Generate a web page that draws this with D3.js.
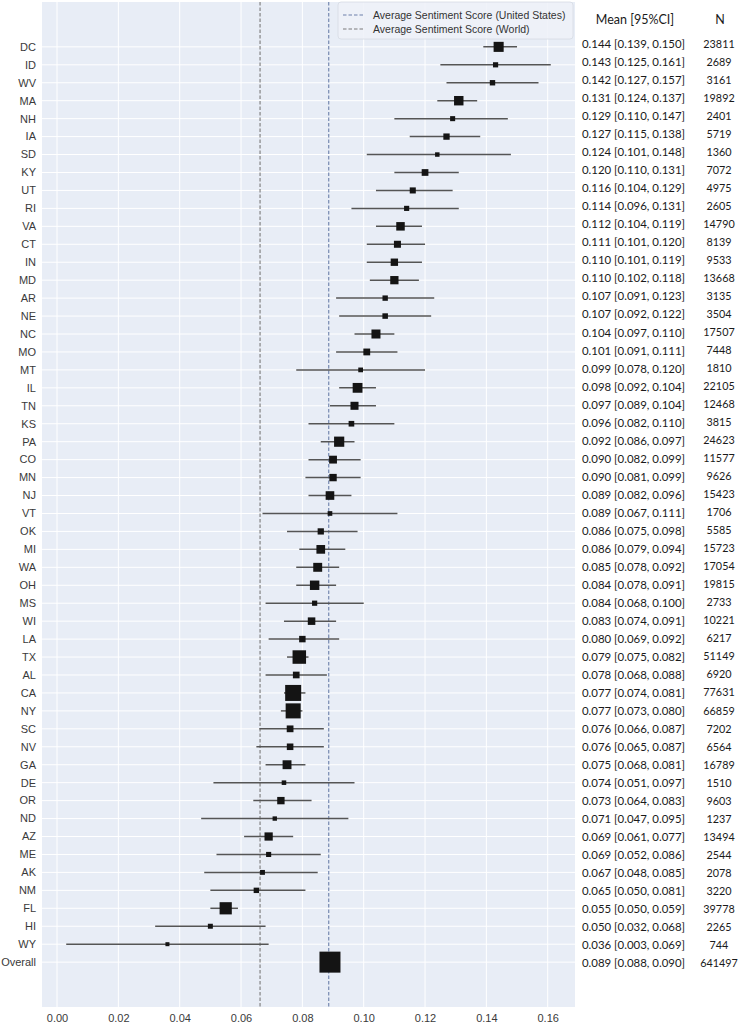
<!DOCTYPE html>
<html>
<head>
<meta charset="utf-8">
<script src="https://cdn.jsdelivr.net/npm/d3@7"></script>
<style>
  html, body { margin: 0; padding: 0; background: #ffffff; }
  svg { display: block; }
</style>
</head>
<body>
<svg id="chart" width="738" height="1025"></svg>
<script>
const states = ["DC","ID","WV","MA","NH","IA","SD","KY","UT","RI","VA","CT","IN","MD","AR","NE","NC","MO","MT","IL","TN","KS","PA","CO","MN","NJ","VT","OK","MI","WA","OH","MS","WI","LA","TX","AL","CA","NY","SC","NV","GA","DE","OR","ND","AZ","ME","AK","NM","FL","HI","WY","Overall"];
const means = [0.144,0.143,0.142,0.131,0.129,0.127,0.124,0.120,0.116,0.114,0.112,0.111,0.110,0.110,0.107,0.107,0.104,0.101,0.099,0.098,0.097,0.096,0.092,0.090,0.090,0.089,0.089,0.086,0.086,0.085,0.084,0.084,0.083,0.080,0.079,0.078,0.077,0.077,0.076,0.076,0.075,0.074,0.073,0.071,0.069,0.069,0.067,0.065,0.055,0.050,0.036,0.089];
const lowers = [0.139,0.125,0.127,0.124,0.110,0.115,0.101,0.110,0.104,0.096,0.104,0.101,0.101,0.102,0.091,0.092,0.097,0.091,0.078,0.092,0.089,0.082,0.086,0.082,0.081,0.082,0.067,0.075,0.079,0.078,0.078,0.068,0.074,0.069,0.075,0.068,0.074,0.073,0.066,0.065,0.068,0.051,0.064,0.047,0.061,0.052,0.048,0.050,0.050,0.032,0.003,0.088];
const uppers = [0.150,0.161,0.157,0.137,0.147,0.138,0.148,0.131,0.129,0.131,0.119,0.120,0.119,0.118,0.123,0.122,0.110,0.111,0.120,0.104,0.104,0.110,0.097,0.099,0.099,0.096,0.111,0.098,0.094,0.092,0.091,0.100,0.091,0.092,0.082,0.088,0.081,0.080,0.087,0.087,0.081,0.097,0.083,0.095,0.077,0.086,0.085,0.081,0.059,0.068,0.069,0.090];
const counts = [23811,2689,3161,19892,2401,5719,1360,7072,4975,2605,14790,8139,9533,13668,3135,3504,17507,7448,1810,22105,12468,3815,24623,11577,9626,15423,1706,5585,15723,17054,19815,2733,10221,6217,51149,6920,77631,66859,7202,6564,16789,1510,9603,1237,13494,2544,2078,3220,39778,2265,744,641497];
const xTicks = [0.00,0.02,0.04,0.06,0.08,0.10,0.12,0.14,0.16];
const refLines = [
  {label: "Average Sentiment Score (United States)", value: 0.0886},
  {label: "Average Sentiment Score (World)", value: 0.0662}
];
const tableHeaders = ["Mean [95%CI]", "N"];

// ---- layout / styles
const plot = {left: 42, right: 575, top: 2, bottom: 1007};
const bg = "#e8edf6";
const refColors = ["#6d80aa", "#7a7a7a"];
const overallSide = 21;

const svg = d3.select("#chart");
const rows = states.map((s, i) => ({state: s, mean: means[i], lo: lowers[i], hi: uppers[i], n: counts[i], i}));

const x = d3.scaleLinear().domain([-0.0049, 0.1689]).range([plot.left, plot.right]);
const y = d3.scaleLinear().domain([-2.5, states.length + 1.5]).range([plot.top, plot.bottom]);
const side = d3.scaleLinear().domain([Math.sqrt(744), Math.sqrt(77631)]).range([4, 16]);
const sz = d => d.state === "Overall" ? overallSide : side(Math.sqrt(d.n));

// background
svg.append("rect").attr("x", plot.left).attr("y", plot.top)
  .attr("width", plot.right - plot.left).attr("height", plot.bottom - plot.top)
  .attr("fill", bg);

// grid
const g = svg.append("g");
g.selectAll("line.vg").data(xTicks).join("line")
  .attr("x1", d => x(d)).attr("x2", d => x(d))
  .attr("y1", plot.top).attr("y2", plot.bottom)
  .attr("stroke", "#ffffff").attr("stroke-width", 1);
g.selectAll("line.hg").data(rows).join("line")
  .attr("x1", plot.left).attr("x2", plot.right)
  .attr("y1", d => y(d.i)).attr("y2", d => y(d.i))
  .attr("stroke", "#ffffff").attr("stroke-width", 1);

// reference lines
svg.selectAll("line.ref").data(refLines).join("line")
  .attr("x1", d => x(d.value)).attr("x2", d => x(d.value))
  .attr("y1", plot.top).attr("y2", plot.bottom)
  .attr("stroke", (d, i) => refColors[i]).attr("stroke-width", 1.1)
  .attr("stroke-dasharray", "3.5,2");

// CI lines
svg.selectAll("line.ci").data(rows).join("line")
  .attr("x1", d => x(d.lo)).attr("x2", d => x(d.hi))
  .attr("y1", d => y(d.i)).attr("y2", d => y(d.i))
  .attr("stroke", "#555555").attr("stroke-width", 1.5);

// markers
svg.selectAll("rect.mk").data(rows).join("rect")
  .attr("width", sz).attr("height", sz)
  .attr("x", d => x(d.mean) - sz(d) / 2)
  .attr("y", d => y(d.i) - sz(d) / 2)
  .attr("fill", "#141414");

// y labels
svg.selectAll("text.yl").data(rows).join("text")
  .attr("x", 36).attr("y", d => y(d.i)).attr("dy", "0.35em")
  .attr("text-anchor", "end")
  .attr("font-family", "Liberation Sans, Arial, sans-serif").attr("font-size", 11)
  .attr("fill", "#3a3a3a").text(d => d.state);

// x axis tick labels
const xAxis = d3.axisBottom(x).tickValues(xTicks).tickFormat(d3.format(".2f")).tickSize(0).tickPadding(7);
const ax = svg.append("g").attr("transform", `translate(0,${plot.bottom})`).call(xAxis);
ax.select(".domain").remove();
ax.selectAll("text").attr("font-family", "Liberation Sans, Arial, sans-serif").attr("font-size", 11).attr("fill", "#3a3a3a");

// legend
const leg = svg.append("g");
leg.append("rect").attr("x", 338).attr("y", 2).attr("width", 235).attr("height", 37)
  .attr("rx", 3).attr("fill", "#eef1f8").attr("fill-opacity", 0.85)
  .attr("stroke", "#d6dae3").attr("stroke-width", 0.8);
refLines.forEach((d, i) => {
  const ly = 15 + i * 14;
  leg.append("line").attr("x1", 343).attr("x2", 365).attr("y1", ly).attr("y2", ly)
    .attr("stroke", refColors[i]).attr("stroke-width", 1.1).attr("stroke-dasharray", "3.5,2");
  leg.append("text").attr("x", 373).attr("y", ly).attr("dy", "0.35em")
    .attr("font-family", "Liberation Sans, Arial, sans-serif").attr("font-size", 10.5)
    .attr("fill", "#333333").text(d.label);
});

// table
const fmt = d3.format(".3f");
const ty = d3.scaleLinear().domain([0, states.length - 1]).range([44, 963]);
const tfont = "Lato, 'Open Sans', sans-serif";
svg.append("text").attr("x", 635).attr("y", 20).attr("dy", "0.35em").attr("text-anchor", "middle")
  .attr("font-family", tfont).attr("font-size", 12.5).attr("fill", "#1a1a1a").text(tableHeaders[0]);
svg.append("text").attr("x", 720).attr("y", 20).attr("dy", "0.35em").attr("text-anchor", "middle")
  .attr("font-family", tfont).attr("font-size", 12.5).attr("fill", "#1a1a1a").text(tableHeaders[1]);
svg.selectAll("text.tm").data(rows).join("text")
  .attr("x", 582).attr("y", d => ty(d.i)).attr("dy", "0.35em")
  .attr("font-family", tfont).attr("font-size", 12).attr("fill", "#1a1a1a")
  .attr("textLength", 103).attr("lengthAdjust", "spacingAndGlyphs")
  .text(d => `${fmt(d.mean)} [${fmt(d.lo)}, ${fmt(d.hi)}]`);
svg.selectAll("text.tn").data(rows).join("text")
  .attr("x", 719).attr("y", d => ty(d.i)).attr("dy", "0.35em").attr("text-anchor", "middle")
  .attr("font-family", tfont).attr("font-size", 10.8).attr("fill", "#1a1a1a")
  .text(d => d.n);
</script>
</body>
</html>
